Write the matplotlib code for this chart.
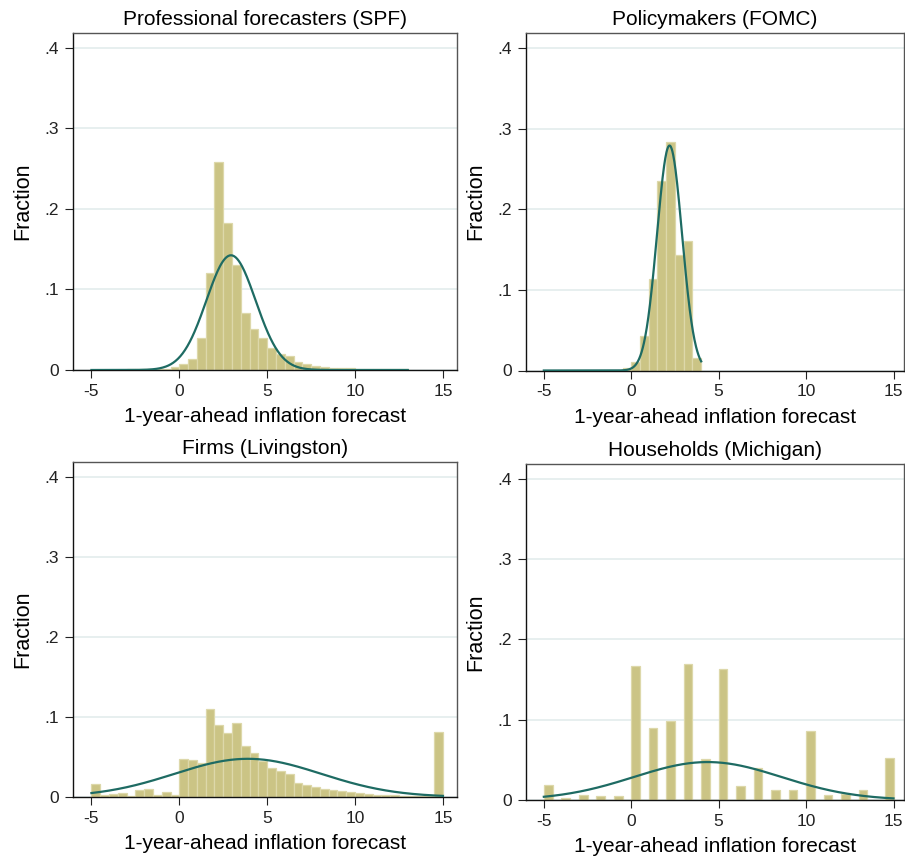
import numpy as np
import matplotlib.pyplot as plt

plt.rcParams['font.family'] = ['Liberation Sans', 'DejaVu Sans']
plt.rcParams['axes.unicode_minus'] = False

# bin width of every histogram and the left edge of the first bin
bin_width = 0.5
bin_start = -5.0

titles = ["Professional forecasters (SPF)", "Policymakers (FOMC)",
          "Firms (Livingston)", "Households (Michigan)"]

# fraction per bin, bins of 0.5 starting at -5
spf_frac = [0.0004, 0.0, 0.0002, 0.0002, 0.0008, 0.001, 0.001, 0.0008, 0.0015, 0.004,
            0.008, 0.014, 0.040, 0.120, 0.258, 0.183, 0.130, 0.071, 0.051, 0.040,
            0.027, 0.020, 0.017, 0.010, 0.007, 0.005, 0.004, 0.003, 0.0025, 0.002,
            0.0015, 0.001, 0.001, 0.0008, 0.0008, 0.0008]
fomc_frac = [0.0, 0.0, 0.0, 0.0, 0.0, 0.0, 0.0, 0.0, 0.0, 0.003,
             0.011, 0.043, 0.113, 0.235, 0.284, 0.143, 0.161, 0.015]
liv_frac = [0.0167, 0.003, 0.004, 0.0054, 0.001, 0.009, 0.010, 0.003, 0.006, 0.003,
            0.048, 0.046, 0.043, 0.110, 0.0896, 0.080, 0.092, 0.064, 0.055, 0.045,
            0.036, 0.033, 0.029, 0.018, 0.015, 0.0125, 0.010, 0.009, 0.008, 0.006,
            0.005, 0.004, 0.003, 0.0025, 0.002, 0.0017, 0.0012, 0.001, 0.0008, 0.081]
mich_frac = [0.0185, 0.0, 0.002, 0.0, 0.006, 0.0, 0.005, 0.0, 0.005, 0.0,
             0.1675, 0.0, 0.0897, 0.0, 0.099, 0.0, 0.169, 0.0, 0.051, 0.0,
             0.163, 0.0, 0.0177, 0.0, 0.0395, 0.0, 0.012, 0.0, 0.012, 0.0,
             0.0856, 0.0, 0.0066, 0.0, 0.0074, 0.0, 0.012, 0.0, 0.0, 0.052]

# fitted normal overlay: mean, sd and range of the data
norm_mean = [2.94, 2.19, 3.9, 4.37]
norm_sd = [1.40, 0.715, 4.18, 4.22]
norm_range = [(-5, 13), (-5, 4), (-5, 15), (-5, 15)]

yticks = [0, 0.1, 0.2, 0.3, 0.4]
ytick_labels = ["0", ".1", ".2", ".3", ".4"]
xticks = [-5, 0, 5, 10, 15]

W, H = 905, 859
fig = plt.figure(figsize=(W / 100, H / 100), dpi=100)

# axes boxes in pixels: left, right, top, bottom
boxes = [(73, 457, 33, 370), (526, 904, 33, 370.5),
         (73, 457, 462, 797), (526, 904, 464, 800)]
xlims = [(-6.05, 15.8), (-6.02, 15.6), (-6.05, 15.8), (-6.02, 15.6)]

bar_col = '#cbc485'
bar_edge = '#ddd8aa'
line_col = '#1e6b63'

for i, frac in enumerate([spf_frac, fomc_frac, liv_frac, mich_frac]):
    l, r, t, b = boxes[i]
    ax = fig.add_axes([l / W, 1 - b / H, (r - l) / W, (b - t) / H])
    lefts = bin_start + bin_width * np.arange(len(frac))
    ax.bar(lefts, frac, width=bin_width, align='edge', color=bar_col,
           edgecolor=bar_edge, linewidth=0.9, zorder=2)
    lo, hi = norm_range[i]
    xs = np.linspace(lo, hi, 400)
    dens = bin_width * np.exp(-0.5 * ((xs - norm_mean[i]) / norm_sd[i]) ** 2) / (norm_sd[i] * np.sqrt(2 * np.pi))
    ax.plot(xs, dens, color=line_col, lw=1.6, zorder=3)

    ax.set_xlim(*xlims[i])
    ax.set_ylim(0, 0.4186)
    ax.set_yticks(yticks)
    ax.set_yticklabels(ytick_labels)
    ax.set_xticks(xticks)
    ax.grid(axis='y', color='#e3ecec', lw=1.2, zorder=0)
    ax.set_axisbelow(True)
    ax.tick_params(axis='both', direction='out', length=6, width=0.8,
                   labelsize=12.5, pad=4, colors='#222222')
    for s in ['left', 'bottom']:
        ax.spines[s].set_color('#111111')
        ax.spines[s].set_linewidth(1.0)
    for s in ['top', 'right']:
        ax.spines[s].set_color('#555555')
        ax.spines[s].set_linewidth(1.0)
    ax.set_title(titles[i], fontsize=15, pad=6)
    ax.set_xlabel("1-year-ahead inflation forecast", fontsize=15, labelpad=6)
    ax.set_ylabel("Fraction", fontsize=15.5, labelpad=8)

fig.savefig("out.png", dpi=100)
